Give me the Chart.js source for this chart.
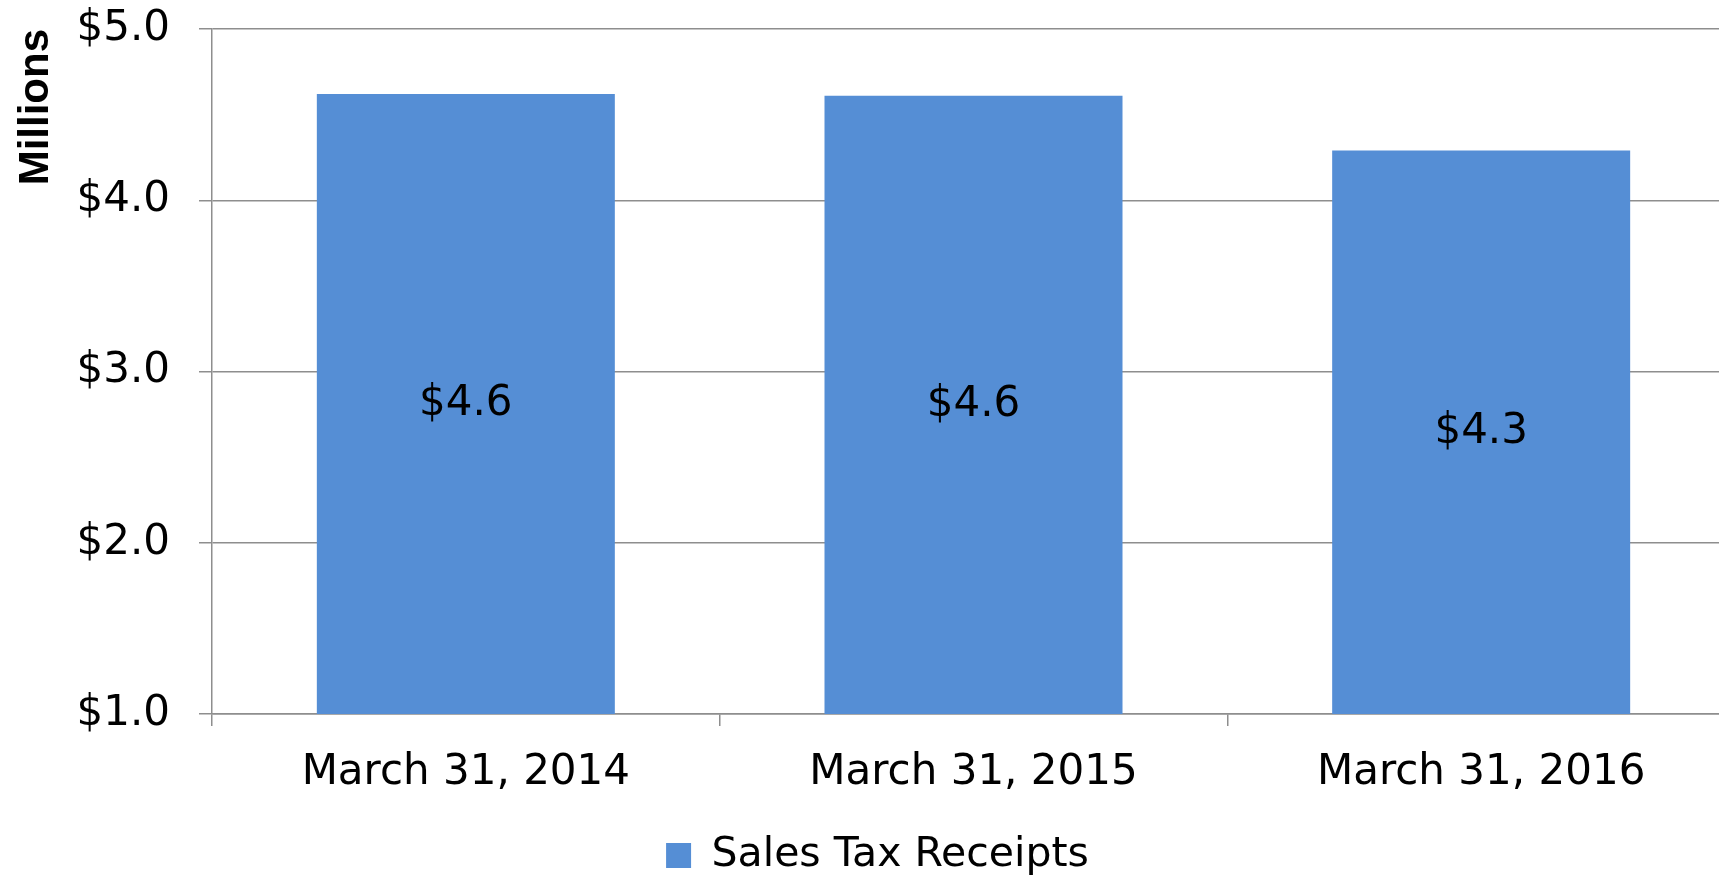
<!DOCTYPE html>
<html>
<head>
<meta charset="utf-8">
<script src="https://cdn.jsdelivr.net/npm/chart.js@4.4.1/dist/chart.umd.min.js"></script>
<style>
  html, body { margin: 0; padding: 0; background: #fff; overflow: hidden; }
  #wrap { position: relative; width: 1736px; height: 876px; }
</style>
</head>
<body>
<div id="wrap"><canvas id="c"></canvas></div>
<script>
const categories = ['March 31, 2014', 'March 31, 2015', 'March 31, 2016'];
const salesTaxReceipts = [4.62, 4.61, 4.29];
const yTicks = [1, 2, 3, 4, 5];
const seriesName = 'Sales Tax Receipts';
const axisTitle = 'Millions';

const FONT = "'DejaVu Sans', sans-serif";
const GRID = '#8e8e8e';
const BLUE = '#558ed5';

const valueLabels = {
  id: 'valueLabels',
  afterDatasetsDraw(chart) {
    const ctx = chart.ctx;
    const bottom = chart.chartArea.bottom;
    ctx.save();
    ctx.font = "42px " + FONT;
    ctx.fillStyle = '#000';
    ctx.textAlign = 'center';
    ctx.textBaseline = 'middle';
    chart.data.datasets.forEach((ds, di) => {
      const meta = chart.getDatasetMeta(di);
      meta.data.forEach((bar, i) => {
        const p = bar.getProps(['x', 'y', 'base'], true);
        const base = Math.min(p.base, bottom);
        ctx.fillText('$' + ds.data[i].toFixed(1), p.x, (p.y + base) / 2);
      });
    });
    ctx.restore();
  }
};

new Chart(document.getElementById('c'), {
  type: 'bar',
  data: {
    labels: categories,
    datasets: [{
      label: seriesName,
      data: salesTaxReceipts,
      backgroundColor: BLUE,
      borderWidth: 0,
      barPercentage: 0.587,
      categoryPercentage: 1.0
    }]
  },
  options: {
    responsive: true,
    maintainAspectRatio: false,
    animation: false,
    layout: { padding: { top: 29, right: 1, left: 20, bottom: -10 } },
    plugins: {
      tooltip: { enabled: false },
      legend: {
        position: 'bottom',
        labels: {
          color: '#000',
          font: { family: FONT, size: 41 },
          boxWidth: 25,
          boxHeight: 25,
          padding: 8
        }
      }
    },
    scales: {
      x: {
        afterFit(scale) { scale.height = 113; },
        grid: {
          display: true,
          drawOnChartArea: false,
          drawTicks: true,
          tickLength: 12,
          color: GRID,
          lineWidth: 1.5,
          offset: true
        },
        border: { display: true, color: GRID, width: 1.5 },
        ticks: {
          color: '#000',
          font: { family: FONT, size: 42 },
          padding: 22,
          maxRotation: 0
        }
      },
      y: {
        min: 1,
        max: 5,
        afterBuildTicks(scale) { scale.ticks = yTicks.map(v => ({ value: v })); },
        afterFit(scale) { scale.width = 192; scale.paddingTop = 0; scale.paddingBottom = 0; },
        grid: {
          color: GRID,
          lineWidth: 1.5,
          drawTicks: true,
          tickLength: 13
        },
        border: { display: true, color: GRID, width: 1.5 },
        ticks: {
          color: '#000',
          font: { family: FONT, size: 42 },
          padding: 29,
          callback: (v) => '$' + Number(v).toFixed(1)
        },
        title: {
          display: true,
          text: axisTitle,
          align: 'end',
          color: '#000',
          font: { family: "'Liberation Sans', Arial, sans-serif", size: 42, weight: 'bold' },
          padding: { top: -9, bottom: 0 }
        }
      }
    }
  },
  plugins: [valueLabels]
});
</script>
</body>
</html>
